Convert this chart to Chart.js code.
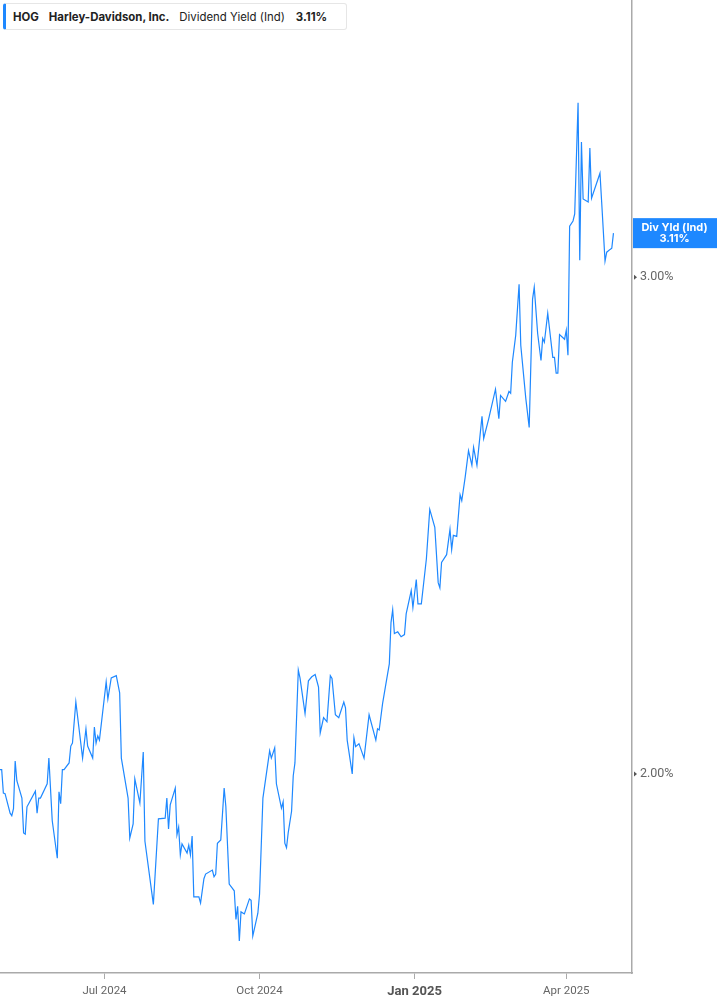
<!DOCTYPE html>
<html>
<head>
<meta charset="utf-8">
<script src="https://cdn.jsdelivr.net/npm/chart.js@4"></script>
<style>
  html, body { margin: 0; padding: 0; background: #fff; }
  #wrap { position: relative; width: 717px; height: 1005px; }
  #legend {
    position: absolute; left: 3px; top: 3px; height: 27px; width: 344px;
    border: 1px solid #e6e6e6; border-left: 3px solid #1e88ff; border-radius: 3px;
    background: #fff; font-family: Inter, "Noto Sans", sans-serif; font-size: 11.4px;
    color: #222; display: flex; align-items: center; box-sizing: border-box; padding-left: 7px;
  }
  #legend span { white-space: nowrap; }
  #legend .b { font-weight: 700; }
</style>
</head>
<body>
<div id="wrap">
  <canvas id="chart" width="717" height="1005"></canvas>
  <div id="legend">
    <span class="b">HOG</span>
    <span class="b" style="margin-left:10px">Harley-Davidson, Inc.</span>
    <span style="margin-left:10px">Dividend Yield (Ind)</span>
    <span class="b" style="margin-left:11px">3.11%</span>
  </div>
</div>
<script>
// ----- Data (day 0 = 2024-04-30) -----
const days = [0, 1, 2, 3, 6, 7, 8, 9, 10, 13, 14, 15, 16, 17, 21, 22, 23, 24, 28, 29,
  31, 34, 35, 36, 37, 38, 41, 42, 43, 45, 49, 51, 52, 55, 56, 57, 58, 59, 63, 64,
  66, 69, 71, 72, 76, 77, 79, 80, 83, 85, 86, 91, 94, 98, 99, 100, 101, 104, 105, 106,
  107, 108, 111, 112, 113, 114, 115, 118, 119, 121, 122, 126, 127, 128, 129, 131, 133, 134, 136, 139,
  140, 141, 142, 143, 145, 148, 149, 150, 153, 154, 156, 160, 161, 163, 164, 167, 168, 169, 170, 171,
  173, 174, 175, 177, 178, 181, 183, 185, 187, 189, 190, 192, 194, 196, 197, 199, 201, 204, 205, 206,
  209, 210, 211, 213, 216, 219, 223, 224, 225, 227, 229, 231, 232, 233, 234, 236, 238, 240, 241, 244,
  245, 247, 248, 250, 253, 255, 258, 260, 261, 262, 265, 267, 268, 269, 271, 273, 274, 276, 278, 280,
  281, 283, 286, 287, 290, 294, 296, 297, 300, 302, 303, 304, 306, 308, 309, 312, 314, 316, 317, 319,
  321, 322, 323, 325, 328, 329, 330, 331, 332, 335, 336, 337, 338, 340, 341, 343, 344, 345, 346, 349,
  350, 351, 356, 357, 359, 360, 362, 363, 364];

const yieldPct = [2.007, 2.007, 1.969, 1.968, 1.937, 1.933, 1.944, 2.021, 1.989, 1.961, 1.906, 1.904, 1.947, 1.952, 1.972, 1.937, 1.961, 1.961, 1.984, 2.026,
  1.925, 1.867, 1.971, 1.952, 2.007, 2.007, 2.018, 2.046, 2.051, 2.121, 2.026, 2.075, 2.046, 2.026, 2.078, 2.051, 2.063, 2.056, 2.156, 2.126,
  2.163, 2.167, 2.137, 2.026, 1.961, 1.898, 1.920, 1.992, 1.953, 2.036, 1.893, 1.798, 1.928, 1.929, 1.961, 1.912, 1.950, 1.977, 1.903, 1.915,
  1.872, 1.889, 1.875, 1.887, 1.872, 1.901, 1.809, 1.809, 1.800, 1.836, 1.843, 1.849, 1.839, 1.843, 1.890, 1.895, 1.977, 1.948, 1.828, 1.818,
  1.776, 1.795, 1.745, 1.787, 1.784, 1.806, 1.804, 1.752, 1.785, 1.813, 1.961, 2.038, 2.026, 2.043, 1.984, 1.945, 1.955, 1.890, 1.883, 1.906,
  1.940, 1.997, 2.018, 2.177, 2.163, 2.101, 2.158, 2.165, 2.169, 2.147, 2.068, 2.094, 2.087, 2.167, 2.162, 2.099, 2.094, 2.121, 2.111, 2.056,
  2.000, 2.060, 2.045, 2.050, 2.026, 2.099, 2.056, 2.075, 2.073, 2.118, 2.153, 2.188, 2.263, 2.287, 2.243, 2.246, 2.237, 2.241, 2.279, 2.323,
  2.291, 2.344, 2.298, 2.298, 2.384, 2.482, 2.446, 2.338, 2.328, 2.377, 2.392, 2.442, 2.402, 2.430, 2.428, 2.512, 2.500, 2.548, 2.604, 2.573,
  2.611, 2.573, 2.678, 2.630, 2.673, 2.738, 2.673, 2.724, 2.711, 2.733, 2.729, 2.799, 2.861, 2.983, 2.838, 2.717, 2.654, 2.947, 2.976, 2.866,
  2.803, 2.854, 2.845, 2.913, 2.810, 2.810, 2.774, 2.774, 2.863, 2.852, 2.873, 2.815, 3.128, 3.141, 3.159, 3.459, 3.042, 3.350, 3.198, 3.190,
  3.334, 3.200, 3.266, 3.190, 3.040, 3.062, 3.069, 3.072, 3.110];

const tickDays = [62, 154, 246, 336];
const tickLabels = ["Jul 2024", "Oct 2024", "Jan 2025", "Apr 2025"];
const yTicks = [2, 3];

const BLUE = "#1e88ff";

// right-hand value tag + small tick arrows on y axis
const extras = {
  id: "extras",
  afterDraw(chart) {
    const { ctx, scales: { y }, chartArea } = chart;
    ctx.save();
    ctx.fillStyle = "#555";
    yTicks.forEach(v => {
      const py = y.getPixelForValue(v);
      ctx.beginPath();
      ctx.moveTo(chartArea.right + 2, py - 2.5);
      ctx.lineTo(chartArea.right + 5, py);
      ctx.lineTo(chartArea.right + 2, py + 2.5);
      ctx.fill();
    });
    const last = yieldPct[yieldPct.length - 1];
    const py = y.getPixelForValue(last);
    ctx.fillStyle = BLUE;
    ctx.fillRect(chartArea.right + 1, py - 15, 717 - chartArea.right - 1, 30);
    ctx.fillStyle = "#fff";
    ctx.font = "bold 11px Inter, 'Noto Sans', sans-serif";
    ctx.textAlign = "center";
    ctx.textBaseline = "middle";
    const cx = (chartArea.right + 717) / 2;
    ctx.fillText("Div Yld (Ind)", cx, py - 5);
    ctx.fillText(last.toFixed(2) + "%", cx, py + 6);
    ctx.restore();
  }
};

new Chart(document.getElementById("chart"), {
  type: "line",
  data: {
    datasets: [{
      data: days.map((d, i) => ({ x: d, y: yieldPct[i] })),
      borderColor: BLUE,
      borderWidth: 1.2,
      pointRadius: 0,
      tension: 0,
      fill: false
    }]
  },
  options: {
    responsive: false,
    animation: false,
    layout: { padding: 0 },
    plugins: { legend: { display: false }, tooltip: { enabled: false } },
    scales: {
      x: {
        type: "linear",
        min: 0,
        max: 375,
        border: { color: "#aaa", width: 1.5 },
        grid: { drawOnChartArea: false, drawTicks: true, tickLength: 6, tickColor: "#aaa" },
        afterBuildTicks: s => { s.ticks = tickDays.map(v => ({ value: v })); },
        afterFit: s => { s.height = 32; s.paddingLeft = 0; s.paddingRight = 0; },
        ticks: {
          autoSkip: false,
          maxRotation: 0,
          padding: 5,
          callback: v => tickLabels[tickDays.indexOf(v)],
          color: c => (tickLabels[c.index] === "Jan 2025" ? "#555" : "#666"),
          font: c => (tickLabels[c.index] === "Jan 2025"
            ? { family: "Roboto", size: 13, weight: "bold" }
            : { family: "Roboto", size: 11.5 })
        }
      },
      y: {
        type: "logarithmic",
        position: "right",
        min: 1.702,
        max: 3.762,
        border: { color: "#aaa", width: 1.5 },
        grid: { drawOnChartArea: false, drawTicks: false },
        afterBuildTicks: s => { s.ticks = yTicks.map(v => ({ value: v })); },
        afterFit: s => { s.width = 85; s.paddingTop = 0; s.paddingBottom = 0; },
        ticks: {
          padding: 8,
          color: "#666",
          font: { family: "Roboto", size: 12.5 },
          callback: v => v.toFixed(2) + "%"
        }
      }
    }
  },
  plugins: [extras]
});
</script>
</body>
</html>
